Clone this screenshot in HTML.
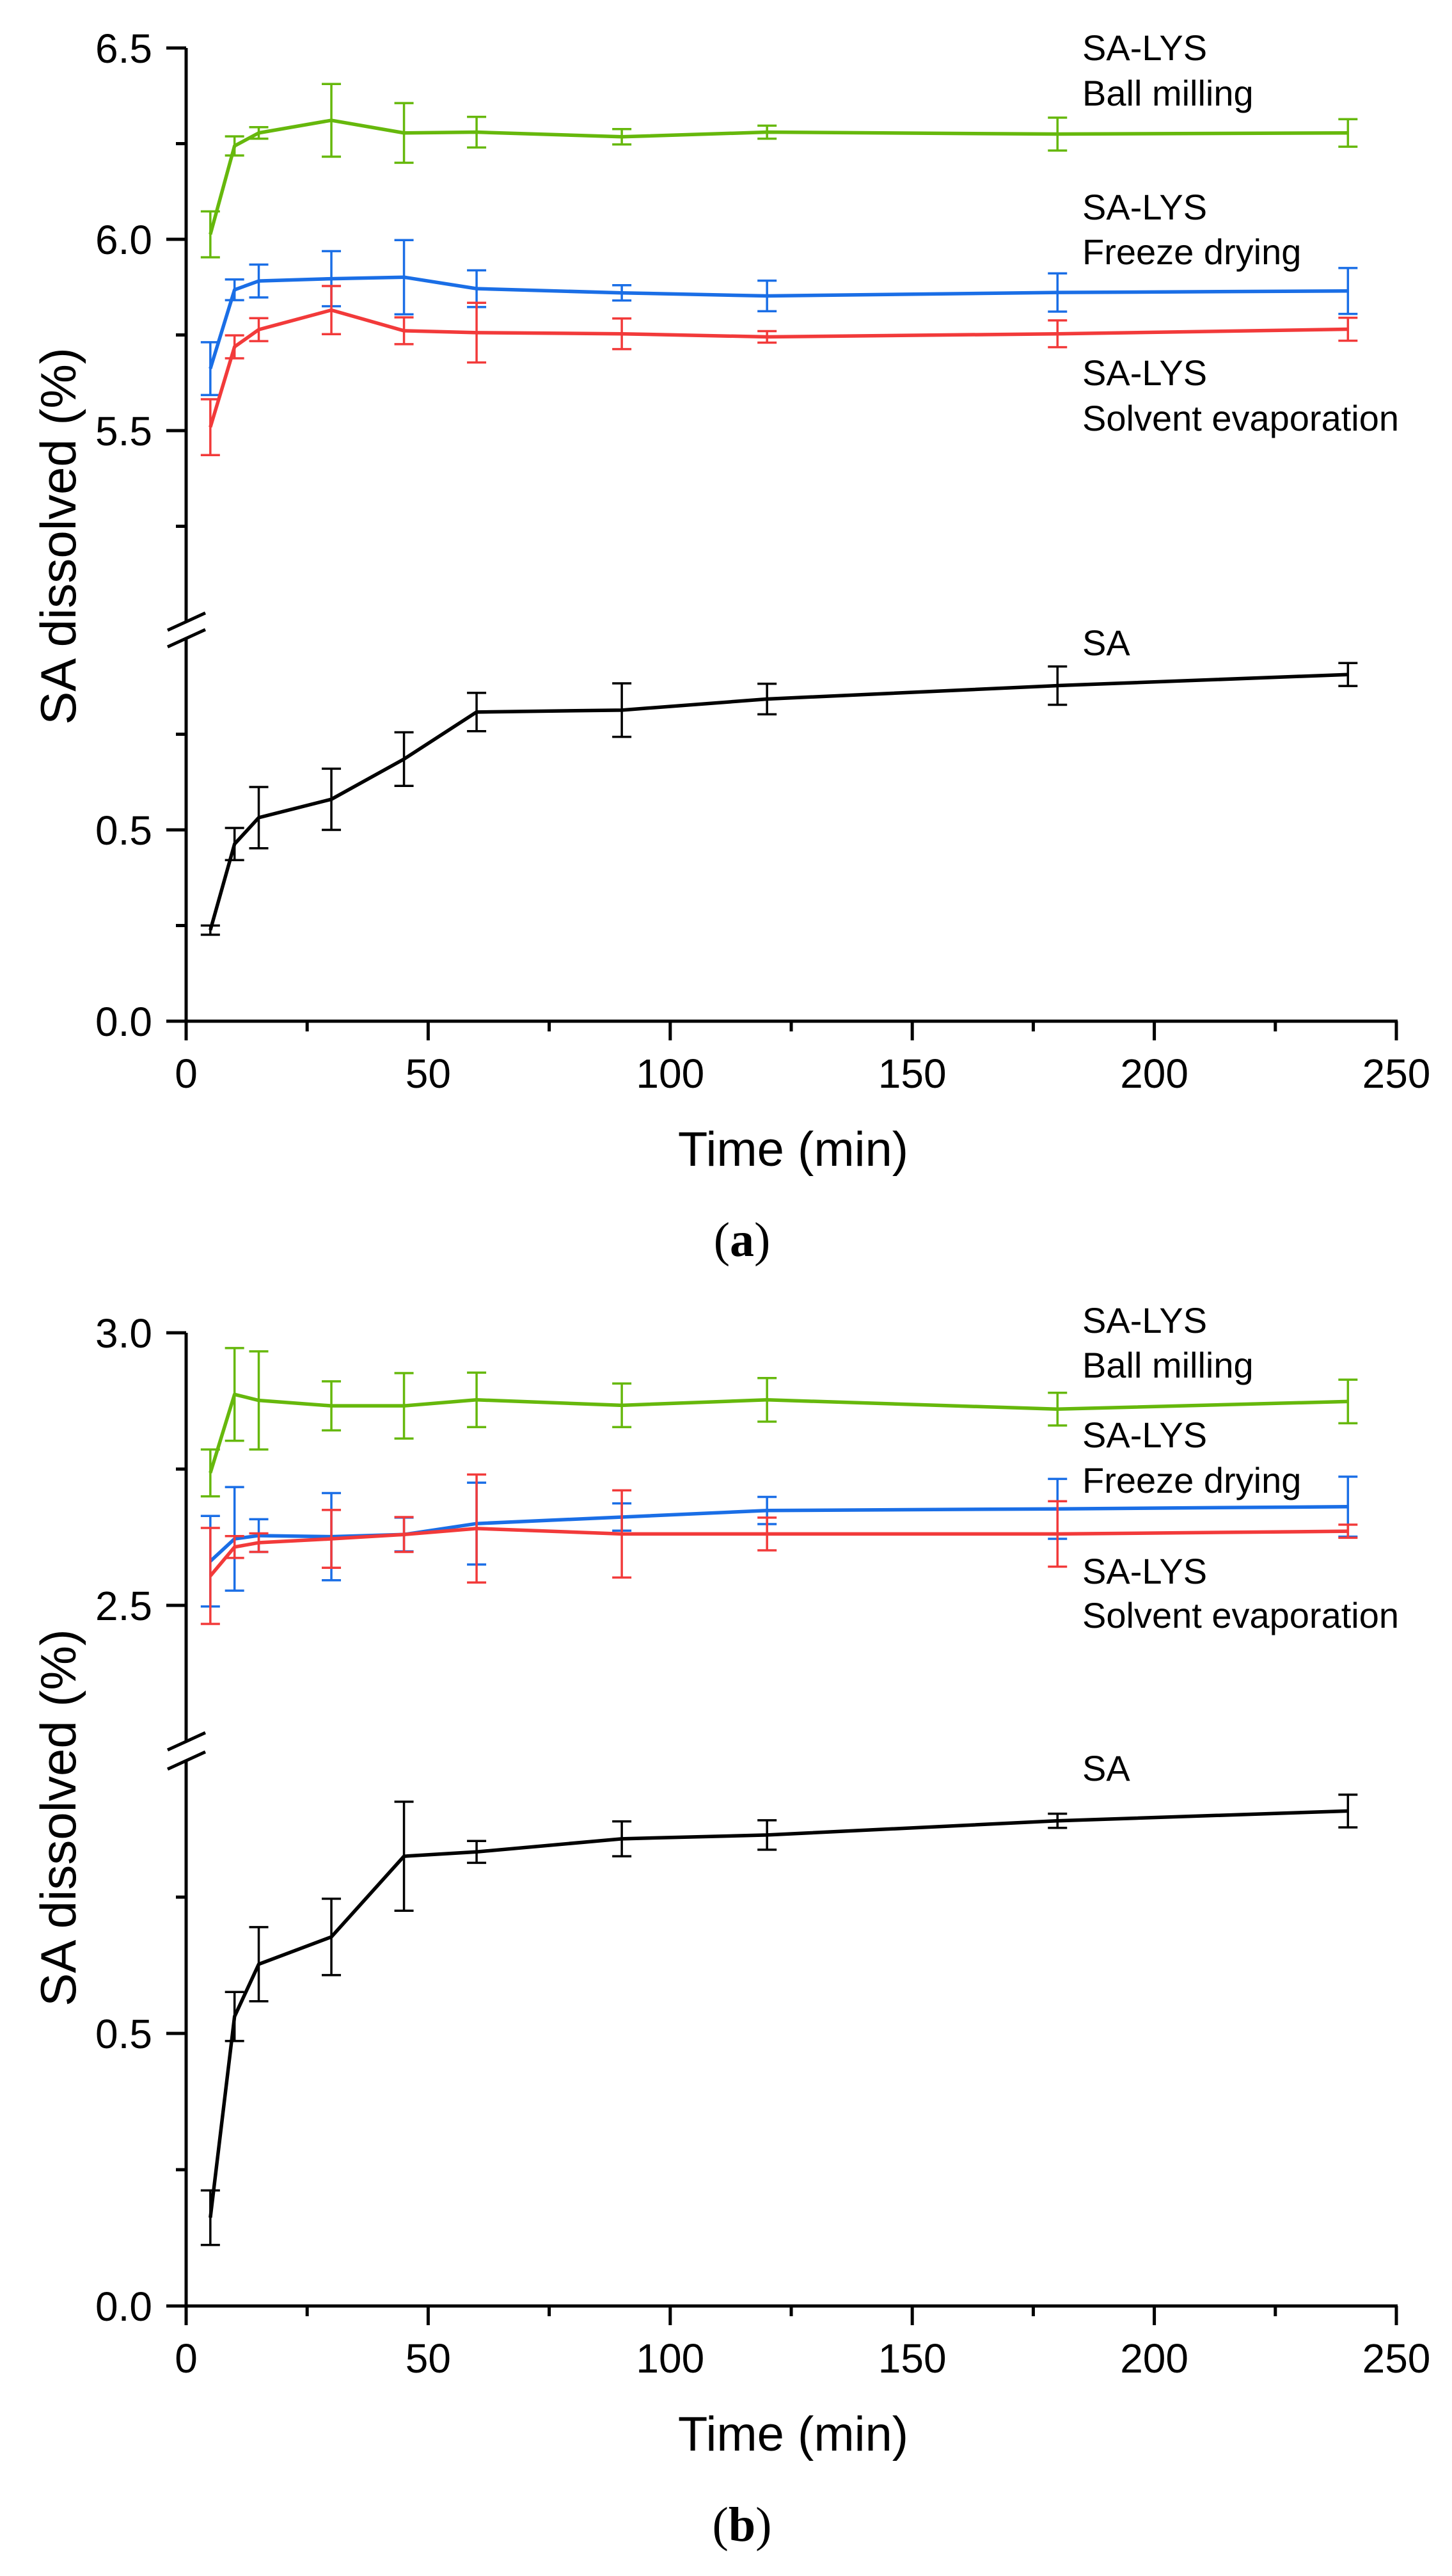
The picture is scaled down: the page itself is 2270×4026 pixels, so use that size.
<!DOCTYPE html>
<html><head><meta charset="utf-8"><style>
html,body{margin:0;padding:0;background:#fff;}
svg{display:block;}
text{font-family:"Liberation Sans",Arial,sans-serif;fill:#000;}
</style></head><body>
<svg id="chart" width="2270" height="4026" viewBox="0 0 2270 4026" xmlns="http://www.w3.org/2000/svg"></svg>
<script>
const times = [5, 10, 15, 30, 45, 60, 90, 120, 180, 240];
const xTicks = [0, 50, 100, 150, 200, 250];
// Panel a
const aBallMill = [6.013, 6.244, 6.278, 6.311, 6.278, 6.280, 6.268, 6.280, 6.275, 6.278];
const aBallMillErr = [0.06, 0.025, 0.015, 0.095, 0.078, 0.04, 0.02, 0.017, 0.043, 0.036];
const aFreeze = [5.662, 5.868, 5.891, 5.897, 5.901, 5.871, 5.860, 5.852, 5.861, 5.865];
const aFreezeErr = [0.069, 0.027, 0.043, 0.072, 0.097, 0.048, 0.02, 0.04, 0.05, 0.06];
const aSolvent = [5.509, 5.719, 5.764, 5.815, 5.761, 5.756, 5.753, 5.745, 5.753, 5.765];
const aSolventErr = [0.073, 0.03, 0.03, 0.063, 0.035, 0.078, 0.04, 0.015, 0.035, 0.03];
const aSA = [0.238, 0.463, 0.532, 0.580, 0.685, 0.808, 0.813, 0.842, 0.877, 0.906];
const aSAErr = [0.012, 0.042, 0.08, 0.08, 0.07, 0.05, 0.07, 0.04, 0.05, 0.03];
const aUpperTicks = [5.5, 6.0, 6.5];
const aLowerTicks = [0.0, 0.5];
// Panel b
const bBallMill = [2.743, 2.887, 2.876, 2.866, 2.866, 2.877, 2.867, 2.877, 2.860, 2.874];
const bBallMillErr = [0.043, 0.085, 0.09, 0.045, 0.06, 0.05, 0.04, 0.04, 0.03, 0.04];
const bFreeze = [2.581, 2.622, 2.628, 2.626, 2.630, 2.650, 2.662, 2.674, 2.677, 2.681];
const bFreezeErr = [0.083, 0.095, 0.03, 0.08, 0.031, 0.075, 0.025, 0.025, 0.055, 0.055];
const bSolvent = [2.554, 2.607, 2.615, 2.622, 2.630, 2.641, 2.631, 2.631, 2.631, 2.636];
const bSolventErr = [0.088, 0.02, 0.017, 0.053, 0.032, 0.099, 0.08, 0.03, 0.06, 0.012];
const bSA = [0.162, 0.531, 0.627, 0.677, 0.825, 0.833, 0.857, 0.864, 0.890, 0.908];
const bSAErr = [0.05, 0.045, 0.068, 0.07, 0.1, 0.02, 0.032, 0.027, 0.013, 0.03];
const bUpperTicks = [2.5, 3.0];
const bLowerTicks = [0.0, 0.5];

const NS = "http://www.w3.org/2000/svg";
const svg = document.getElementById("chart");
const GREEN = "#66b80c", BLUE = "#1a6ee6", RED = "#f23a3a";

function mk(tag, attrs, parent) {
  const e = document.createElementNS(NS, tag);
  for (const k in attrs) e.setAttribute(k, attrs[k]);
  (parent || svg).appendChild(e);
  return e;
}
const X0 = 291, X1 = 2183;
function xs(t) { return X0 + (X1 - X0) * t / 250; }

function panel(cfg) {
  const g = mk("g", {});
  
  
  const yU = v => cfg.uTop + (cfg.uMax - v) * cfg.ppu;
  const yL = v => cfg.l0 - v * cfg.ppu;
  const uBottomY = yU(cfg.uMin);
  const lTopY = yL(cfg.lMax);
  const ax = mk("g", {stroke: "#000", "stroke-width": 5, fill: "none"}, g);
  
  
  mk("line", {x1: X0, y1: yU(cfg.uMax), x2: X0, y2: uBottomY}, ax);
  mk("line", {x1: X0, y1: lTopY, x2: X0, y2: cfg.l0}, ax);
  mk("line", {x1: 262, y1: uBottomY + 13, x2: 321, y2: uBottomY - 14, "stroke-width": 5}, ax);
  mk("line", {x1: 262, y1: lTopY + 13, x2: 321, y2: lTopY - 14, "stroke-width": 5}, ax);
  const xa = mk("g", {stroke: "#000", "stroke-width": 5}, g);
  
  
  mk("line", {x1: X0 - 2, y1: cfg.l0, x2: X1 + 2, y2: cfg.l0}, xa);
  for (let t = 0; t <= 250; t += 25) {
    const major = t % 50 === 0;
    mk("line", {x1: xs(t), y1: cfg.l0, x2: xs(t), y2: cfg.l0 + (major ? 30 : 16)}, xa);
  }
  xTicks.forEach(t => {
    const tx = mk("text", {x: xs(t), y: cfg.l0 + 104, "font-size": 64, "text-anchor": "middle"}, g);
    
    
    tx.textContent = String(t);
  });
  for (let v = cfg.uMin; v <= cfg.uMax + 1e-9; v += 0.25) {
    const major = Math.abs(v * 2 - Math.round(v * 2)) < 1e-6;
    if (Math.abs(v - cfg.uMin) < 1e-9 && !cfg.uTicks.includes(v)) { continue; }
    mk("line", {x1: X0 - (major ? 31 : 16), y1: yU(v), x2: X0, y2: yU(v)}, ax);
  }
  for (let v = 0; v <= cfg.lMax - 0.1; v += 0.25) {
    const major = Math.abs(v * 2 - Math.round(v * 2)) < 1e-6;
    mk("line", {x1: X0 - (major ? 31 : 16), y1: yL(v), x2: X0, y2: yL(v)}, ax);
  }
  cfg.uTicks.forEach(v => {
    const tx = mk("text", {x: 238, y: yU(v) + 23, "font-size": 64, "text-anchor": "end"}, g);
    
    
    tx.textContent = v.toFixed(1);
  });
  cfg.lTicks.forEach(v => {
    const tx = mk("text", {x: 238, y: yL(v) + 23, "font-size": 64, "text-anchor": "end"}, g);
    
    
    tx.textContent = v.toFixed(1);
  });
  const yt = mk("text", {x: 0, y: 0, "font-size": 78, "text-anchor": "middle", transform: `translate(118,${cfg.ytC}) rotate(-90)`}, g);
  
  
  yt.textContent = "SA dissolved (%)";
  const xt = mk("text", {x: 1240, y: cfg.l0 + 226, "font-size": 76, "text-anchor": "middle"}, g);
  
  
  xt.textContent = "Time (min)";
  const cap = mk("text", {x: 1160, y: cfg.l0 + 367, "font-size": 76, "text-anchor": "middle", style: "font-family:'Liberation Serif',serif"}, g);
  
  
  const t1 = mk("tspan", {}, cap); t1.textContent = "(";
  const t2 = mk("tspan", {"font-weight": "bold"}, cap); t2.textContent = cfg.letter;
  const t3 = mk("tspan", {}, cap); t3.textContent = ")";
  cfg.series.forEach(s => {
    const sy = s.lower ? yL : yU;
    const sg = mk("g", {}, g);
    
    
    s.vals.forEach((v, i) => {
      const x = xs(times[i]);
      const e = s.err[i];
      const eb = mk("path", {d: `M${x},${sy(v + e)}V${sy(v - e)}M${x - 15},${sy(v + e)}H${x + 15}M${x - 15},${sy(v - e)}H${x + 15}`, stroke: s.color, "stroke-width": 3.5, fill: "none"}, sg);
      
      
    });
    const pts = s.vals.map((v, i) => `${xs(times[i])},${sy(v)}`).join(" ");
    const pl = mk("polyline", {points: pts, stroke: s.color, "stroke-width": 5.5, fill: "none", "stroke-linejoin": "round"}, sg);
    
    
  });
  cfg.labels.forEach(l => {
    const tx = mk("text", {x: 1692, y: l[1], "font-size": 56}, g);
    
    
    tx.textContent = l[0];
  });
}

panel({
  name: "panel-a", letter: "a",
  uTop: 75, uMax: 6.5, uMin: 5.0, ppu: 598, l0: 1596, lMax: 1.0,
  uTicks: aUpperTicks, lTicks: aLowerTicks, ytC: 838,
  series: [
    {name: "ball-milling-series", vals: aBallMill, err: aBallMillErr, color: GREEN},
    {name: "freeze-drying-series", vals: aFreeze, err: aFreezeErr, color: BLUE},
    {name: "solvent-evaporation-series", vals: aSolvent, err: aSolventErr, color: RED},
    {name: "sa-series", vals: aSA, err: aSAErr, color: "#000", lower: true}
  ],
  labels: [["SA-LYS", 94], ["Ball milling", 165], ["SA-LYS", 343], ["Freeze drying", 413], ["SA-LYS", 602], ["Solvent evaporation", 673], ["SA", 1024]]
});
panel({
  name: "panel-b", letter: "b",
  uTop: 2083, uMax: 3.0, uMin: 2.25, ppu: 852, l0: 3604, lMax: 1.0,
  uTicks: bUpperTicks, lTicks: bLowerTicks, ytC: 2841,
  series: [
    {name: "ball-milling-series", vals: bBallMill, err: bBallMillErr, color: GREEN},
    {name: "freeze-drying-series", vals: bFreeze, err: bFreezeErr, color: BLUE},
    {name: "solvent-evaporation-series", vals: bSolvent, err: bSolventErr, color: RED},
    {name: "sa-series", vals: bSA, err: bSAErr, color: "#000", lower: true}
  ],
  labels: [["SA-LYS", 2083], ["Ball milling", 2153], ["SA-LYS", 2262], ["Freeze drying", 2333], ["SA-LYS", 2475], ["Solvent evaporation", 2544], ["SA", 2783]]
});
</script>
</body></html>
